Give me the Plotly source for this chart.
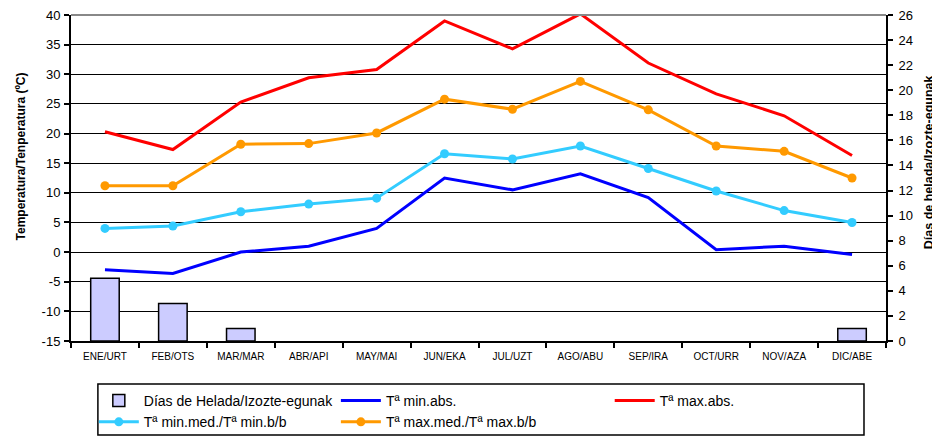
import plotly.graph_objects as go

months = ["ENE/URT", "FEB/OTS", "MAR/MAR", "ABR/API", "MAY/MAI", "JUN/EKA",
          "JUL/UZT", "AGO/ABU", "SEP/IRA", "OCT/URR", "NOV/AZA", "DIC/ABE"]
frost_days = [5, 3, 1, 0, 0, 0, 0, 0, 0, 0, 0, 1]
t_min_abs = [-3, -3.6, 0, 1, 4, 12.5, 10.5, 13.2, 9.2, 0.4, 1, -0.4]
t_max_abs = [20.3, 17.3, 25.3, 29.4, 30.8, 39, 34.3, 40.2, 31.9, 26.7, 23, 16.3]
t_min_med = [4, 4.4, 6.8, 8.1, 9.1, 16.6, 15.7, 17.9, 14.1, 10.3, 7, 5]
t_max_med = [11.2, 11.2, 18.2, 18.3, 20.1, 25.8, 24.1, 28.8, 24, 17.9, 17, 12.5]
temp_ticks = [-15, -10, -5, 0, 5, 10, 15, 20, 25, 30, 35, 40]
temp_tick_labels = ["-15", "-10", "-5", "0", "5", "10", "15", "20", "25", "30", "35", "40"]
days_ticks = [0, 2, 4, 6, 8, 10, 12, 14, 16, 18, 20, 22, 24, 26]

FONT = "Liberation Sans, Arial, sans-serif"

fig = go.Figure()
fig.add_trace(go.Bar(x=months, y=frost_days, name="Días de Helada/Izozte-egunak",
                     yaxis="y2", width=0.42,
                     marker=dict(color="#ccccff",
                                 line=dict(color="black", width=[1.5 if v > 0 else 0 for v in frost_days])),
                     legend="legend"))
fig.add_trace(go.Scatter(x=months, y=t_min_abs, name="Tª min.abs.", mode="lines",
                         line=dict(color="#0000ff", width=3), legend="legend2"))
fig.add_trace(go.Scatter(x=months, y=t_max_abs, name="Tª max.abs.", mode="lines",
                         line=dict(color="#ff0000", width=3), legend="legend3"))
fig.add_trace(go.Scatter(x=months, y=t_min_med, name="Tª min.med./Tª min.b/b", mode="lines+markers",
                         line=dict(color="#33ccff", width=3), marker=dict(size=9, color="#33ccff"),
                         legend="legend"))
fig.add_trace(go.Scatter(x=months, y=t_max_med, name="Tª max.med./Tª max.b/b", mode="lines+markers",
                         line=dict(color="#ff9900", width=3), marker=dict(size=9, color="#ff9900"),
                         legend="legend2"))

leg_common = dict(orientation="v", yanchor="top", xanchor="left", bgcolor="rgba(0,0,0,0)",
                  font=dict(family=FONT, size=14, color="black"), tracegroupgap=0,
                  itemwidth=40)

fig.update_layout(
    width=940, height=437,
    margin=dict(l=63, r=62, t=7, b=104, autoexpand=False),
    paper_bgcolor="white", plot_bgcolor="white",
    font=dict(family=FONT, color="black"),
    showlegend=True,
    xaxis=dict(range=[-0.5, len(months) - 0.5], showline=True, linecolor="black", linewidth=2,
               ticks="outside", tickson="boundaries",
               ticklen=5, tickwidth=2, tickcolor="black", tickfont=dict(size=10), showgrid=False,
               automargin=False, ticklabelstandoff=5),
    yaxis=dict(range=[-15, 40], tickvals=temp_ticks, ticktext=temp_tick_labels,
               showline=True, linecolor="black", linewidth=2,
               ticks="outside", ticklen=5, tickwidth=2, tickcolor="black", tickfont=dict(size=13),
               showgrid=True, gridcolor="black", gridwidth=1, zeroline=False, automargin=False,
               ticklabelstandoff=1, ticklabeloverflow="allow"),
    yaxis2=dict(range=[0, 26], tickvals=days_ticks, overlaying="y", side="right", showline=True,
                linecolor="black",
                linewidth=2, ticks="outside", ticklen=5, tickwidth=2, tickcolor="black",
                tickfont=dict(size=13), showgrid=False, zeroline=False, automargin=False,
                ticklabelstandoff=3, ticklabeloverflow="allow"),
    legend=dict(x=0.028, y=-0.135, **leg_common),
    legend2=dict(x=0.325, y=-0.135, **leg_common),
    legend3=dict(x=0.661, y=-0.135, **leg_common),
    annotations=[
        dict(text="<b>Temperatura/Tenperatura (ºC)</b>", xref="paper", yref="paper",
             x=-0.061, y=0.567, xanchor="center", yanchor="middle", textangle=-90,
             showarrow=False, font=dict(size=12, family=FONT, color="black")),
        dict(text="<b>Días de helada/Izozte-egunak</b>", xref="paper", yref="paper",
             x=1.053, y=0.549, xanchor="center", yanchor="middle", textangle=-90,
             showarrow=False, font=dict(size=12.5, family=FONT, color="black")),
    ],
    shapes=[
        dict(type="rect", xref="paper", yref="paper", x0=0.033, x1=0.973, y0=-0.288, y1=-0.132,
             line=dict(color="black", width=1.5), fillcolor="rgba(0,0,0,0)"),
        dict(type="line", xref="paper", yref="paper", x0=0, x1=1, y0=1, y1=1,
             line=dict(color="#888888", width=2)),
    ],
)

fig.write_html("out.html")
